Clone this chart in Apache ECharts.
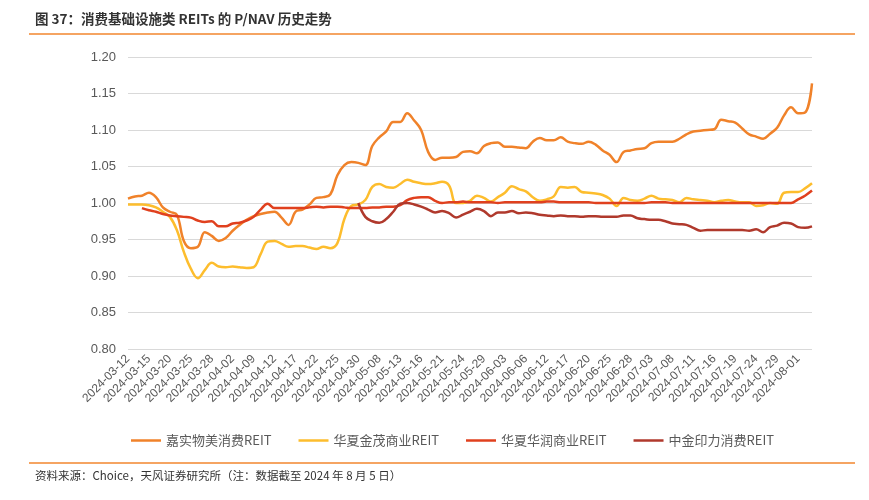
<!DOCTYPE html>
<html><head><meta charset="utf-8">
<script src="https://cdn.jsdelivr.net/npm/echarts@6/dist/echarts.min.js"></script>
<style>html,body{margin:0;padding:0;background:#fff}#c{width:869px;height:500px}</style>
</head><body><div id="c"></div>
<script>
var titleText = '图 37：消费基础设施类 REITs 的 P/NAV 历史走势';
var sourceText = '资料来源：Choice，天风证券研究所（注：数据截至 2024 年 8 月 5 日）';
var seriesNames = ['嘉实物美消费REIT', '华夏金茂商业REIT', '华夏华润商业REIT', '中金印力消费REIT'];
var yTicks = [0.80, 0.85, 0.90, 0.95, 1.00, 1.05, 1.10, 1.15, 1.20];

var dates = [
'2024-03-12','2024-03-13','2024-03-14','2024-03-15','2024-03-18','2024-03-19','2024-03-20','2024-03-21','2024-03-22','2024-03-25',
'2024-03-26','2024-03-27','2024-03-28','2024-03-29','2024-04-01','2024-04-02','2024-04-03','2024-04-08','2024-04-09','2024-04-10',
'2024-04-11','2024-04-12','2024-04-15','2024-04-16','2024-04-17','2024-04-18','2024-04-19','2024-04-22','2024-04-23','2024-04-24',
'2024-04-25','2024-04-26','2024-04-29','2024-04-30','2024-05-06','2024-05-07','2024-05-08','2024-05-09','2024-05-10','2024-05-13',
'2024-05-14','2024-05-15','2024-05-16','2024-05-17','2024-05-20','2024-05-21','2024-05-22','2024-05-23','2024-05-24','2024-05-27',
'2024-05-28','2024-05-29','2024-05-30','2024-05-31','2024-06-03','2024-06-04','2024-06-05','2024-06-06','2024-06-07','2024-06-11',
'2024-06-12','2024-06-13','2024-06-14','2024-06-17','2024-06-18','2024-06-19','2024-06-20','2024-06-21','2024-06-24','2024-06-25',
'2024-06-26','2024-06-27','2024-06-28','2024-07-01','2024-07-02','2024-07-03','2024-07-04','2024-07-05','2024-07-08','2024-07-09',
'2024-07-10','2024-07-11','2024-07-12','2024-07-15','2024-07-16','2024-07-17','2024-07-18','2024-07-19','2024-07-22','2024-07-23',
'2024-07-24','2024-07-25','2024-07-26','2024-07-29','2024-07-30','2024-07-31','2024-08-01','2024-08-02','2024-08-05'
];

var jiashiWumei = [
1.006,1.009,1.010,1.014,1.008,0.994,0.988,0.984,0.948,0.938,
0.940,0.960,0.955,0.948,0.952,0.962,0.970,0.977,0.982,0.985,
0.987,0.988,0.980,0.970,0.988,0.991,0.998,1.007,1.008,1.012,
1.038,1.052,1.056,1.055,1.052,1.078,1.090,1.098,1.111,1.111,
1.123,1.113,1.100,1.070,1.059,1.062,1.062,1.063,1.070,1.071,
1.068,1.078,1.082,1.083,1.077,1.077,1.076,1.075,1.084,1.089,
1.086,1.086,1.090,1.084,1.082,1.081,1.084,1.080,1.072,1.066,
1.056,1.070,1.072,1.074,1.075,1.082,1.084,1.084,1.084,1.088,
1.094,1.098,1.099,1.100,1.101,1.114,1.112,1.110,1.102,1.094,
1.091,1.088,1.095,1.103,1.120,1.131,1.123,1.124,1.164
];

var huaxiaJinmao = [
0.998,0.998,0.998,0.997,0.994,0.988,0.981,0.963,0.933,0.910,
0.897,0.908,0.918,0.913,0.912,0.913,0.912,0.911,0.912,0.930,
0.947,0.948,0.944,0.940,0.941,0.941,0.939,0.937,0.940,0.938,
0.945,0.978,0.996,0.998,1.004,1.022,1.026,1.022,1.021,1.026,
1.032,1.029,1.027,1.026,1.027,1.029,1.024,1.000,1.000,1.003,
1.010,1.007,1.002,1.008,1.014,1.023,1.019,1.016,1.008,1.003,
1.005,1.009,1.022,1.021,1.022,1.015,1.014,1.013,1.011,1.006,
0.996,1.007,1.004,1.003,1.006,1.010,1.006,1.005,1.004,1.001,
1.007,1.005,1.004,1.003,1.001,1.003,1.004,1.002,1.001,1.001,
0.996,0.997,1.000,0.999,1.014,1.015,1.015,1.020,1.027
];

var huaxiaHuarun = [
null,null,0.993,0.990,0.988,0.985,0.983,0.982,0.981,0.980,
0.976,0.974,0.975,0.968,0.968,0.972,0.973,0.976,0.981,0.991,
0.999,0.993,0.993,0.993,0.993,0.993,0.994,0.995,0.994,0.995,
0.995,0.994,0.993,0.993,0.993,0.994,0.994,0.995,0.995,0.997,
1.004,1.007,1.008,1.008,1.003,1.000,1.001,1.001,1.002,1.001,
1.001,1.001,1.001,1.000,1.001,1.001,1.001,1.001,1.001,1.001,
1.002,1.002,1.001,1.001,1.001,1.001,1.001,1.000,1.000,1.000,
1.000,1.000,1.000,1.000,1.000,1.001,1.001,1.001,1.000,1.000,
1.000,1.000,1.000,1.000,1.000,1.000,1.000,1.000,1.000,1.000,
1.000,1.000,1.000,1.000,1.000,1.000,1.005,1.010,1.017
];

var zhongjinYinli = [
null,null,null,null,null,null,null,null,null,null,
null,null,null,null,null,null,null,null,null,null,
null,null,null,null,null,null,null,null,null,null,
null,null,null,1.000,0.981,0.975,0.973,0.978,0.988,0.999,
1.000,0.998,0.995,0.991,0.987,0.989,0.986,0.980,0.984,0.988,
0.992,0.989,0.982,0.987,0.987,0.989,0.986,0.987,0.986,0.984,
0.983,0.982,0.983,0.982,0.982,0.981,0.982,0.982,0.981,0.981,
0.981,0.983,0.983,0.979,0.978,0.977,0.977,0.975,0.972,0.971,
0.970,0.966,0.962,0.963,0.963,0.963,0.963,0.963,0.963,0.962,
0.964,0.960,0.967,0.969,0.973,0.972,0.967,0.966,0.968
];

var colors = ['#F0822A', '#FDBD2D', '#E0401E', '#B0392C'];
var seriesData = [jiashiWumei, huaxiaJinmao, huaxiaHuarun, zhongjinYinli];

var chart = echarts.init(document.getElementById('c'), null, {renderer: 'canvas'});
var cjk = '"Liberation Sans", "Noto Sans CJK SC", sans-serif';

chart.setOption({
  animation: false,
  color: colors,
  textStyle: {fontFamily: cjk},
  grid: {left: 128, right: 57, top: 57, bottom: 151, containLabel: false},
  legend: {
    data: seriesNames,
    left: 126, top: 429,
    icon: 'rect', itemWidth: 30, itemHeight: 2.5, itemGap: 27,
    textStyle: {color: '#595959', fontSize: 13, fontFamily: '"Noto Sans CJK SC", sans-serif'}
  },
  xAxis: {
    type: 'category', data: dates, boundaryGap: false,
    axisLine: {show: false}, axisTick: {show: false},
    axisLabel: {interval: 2, rotate: 45, color: '#595959', fontSize: 12, margin: 8, fontFamily: 'Liberation Sans'}
  },
  yAxis: {
    type: 'value', min: 0.8, max: 1.2, interval: 0.05,
    axisLine: {show: false}, axisTick: {show: false},
    splitLine: {lineStyle: {color: '#D9D9D9', width: 1}},
    axisLabel: {color: '#595959', fontSize: 13, margin: 12, fontFamily: 'Liberation Sans',
      formatter: function (v) { return v.toFixed(2); }}
  },
  series: seriesNames.map(function (n, k) {
    return {
      name: n, type: 'line', data: seriesData[k], smooth: 0.4, showSymbol: false,
      connectNulls: false,
      lineStyle: {width: 2.5, color: colors[k]}
    };
  }),
  graphic: [
    {type: 'text', left: 35, top: 12, style: {text: titleText, fill: '#333', font: 'bold 13.5px "Noto Sans CJK SC", sans-serif'}},
    {type: 'line', shape: {x1: 29, y1: 34, x2: 855, y2: 34}, style: {stroke: '#F5A462', lineWidth: 2}},
    {type: 'line', shape: {x1: 29, y1: 463, x2: 855, y2: 463}, style: {stroke: '#F5A462', lineWidth: 2}},
    {type: 'text', left: 35, top: 470, style: {text: sourceText, fill: '#333', font: '11.5px "Noto Sans CJK SC", sans-serif'}}
  ]
});
</script>
</body></html>
